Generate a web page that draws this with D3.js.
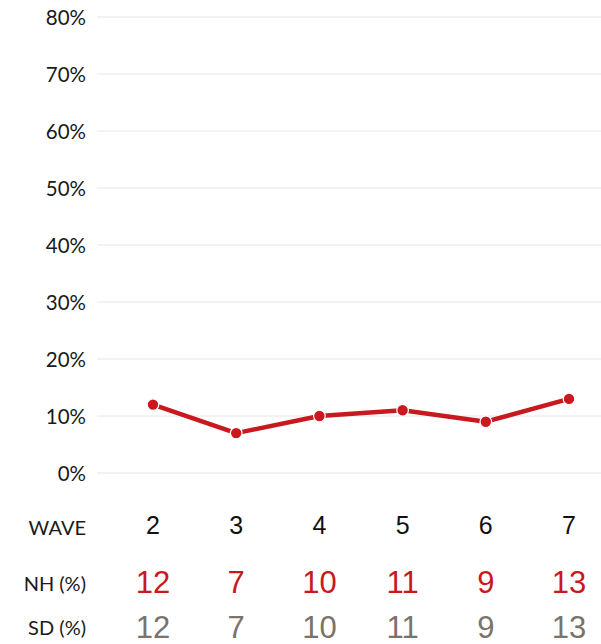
<!DOCTYPE html>
<html>
<head>
<meta charset="utf-8">
<script src="https://cdn.jsdelivr.net/npm/d3@7"></script>
<style>
  html, body { margin: 0; padding: 0; background: #fff; }
  svg { display: block; }
</style>
</head>
<body>
<svg id="chart" width="601" height="644"></svg>
<script>
// Survey waves and share of respondents per wave
const waves = ["2", "3", "4", "5", "6", "7"];
const nhValues = [12, 7, 10, 11, 9, 13];
const sdValues = [12, 7, 10, 11, 9, 13];
const yTicks = [0, 10, 20, 30, 40, 50, 60, 70, 80];
const rowLabels = ["WAVE", "NH (%)", "SD (%)"];

const red = "#c8191f";
const grey = "#7b726b";
const labelFont = "Lato, 'Open Sans', sans-serif";
const numberFont = "'Liberation Sans', Arial, sans-serif";

const svg = d3.select("#chart");

const x = d3.scalePoint().domain(waves).range([153, 569]);
const y = d3.scaleLinear().domain([0, 80]).range([473, 17]);

// Horizontal gridlines
svg.append("g")
  .selectAll("line")
  .data(yTicks)
  .join("line")
  .attr("x1", 97).attr("x2", 601)
  .attr("y1", d => y(d)).attr("y2", d => y(d))
  .attr("stroke", "#e6e6e6")
  .attr("stroke-width", 1);

// Y axis labels
const yAxis = d3.axisLeft(y).tickValues(yTicks).tickFormat(d => d + "%").tickSize(0).tickPadding(0);
const yg = svg.append("g").attr("transform", "translate(86,0)").call(yAxis);
yg.select(".domain").remove();
yg.selectAll("text")
  .attr("font-family", labelFont)
  .attr("font-size", 20.5)
  .attr("fill", "#1a1a1a")
  .attr("dy", "0.35em");

// Line
const line = d3.line()
  .x((d, i) => x(waves[i]))
  .y(d => y(d));

svg.append("path")
  .datum(nhValues)
  .attr("d", line)
  .attr("fill", "none")
  .attr("stroke", red)
  .attr("stroke-width", 4.5)
  .attr("stroke-linejoin", "round");

svg.append("g")
  .selectAll("circle")
  .data(nhValues)
  .join("circle")
  .attr("cx", (d, i) => x(waves[i]))
  .attr("cy", d => y(d))
  .attr("r", 5.8)
  .attr("fill", red)
  .attr("stroke", "#fff")
  .attr("stroke-width", 1.2);

// Table rows below the chart
const labelY = [535, 591, 635];
svg.append("g")
  .selectAll("text")
  .data(rowLabels)
  .join("text")
  .attr("x", 86)
  .attr("y", (d, i) => labelY[i])
  .attr("text-anchor", "end")
  .attr("font-family", labelFont)
  .attr("font-size", 20)
  .attr("fill", "#1a1a1a")
  .text(d => d);

svg.append("g")
  .selectAll("text")
  .data(waves)
  .join("text")
  .attr("x", d => x(d))
  .attr("y", 534)
  .attr("text-anchor", "middle")
  .attr("font-family", numberFont)
  .attr("font-size", 25)
  .attr("fill", "#111")
  .text(d => d);

svg.append("g")
  .selectAll("text")
  .data(nhValues)
  .join("text")
  .attr("x", (d, i) => x(waves[i]))
  .attr("y", 593)
  .attr("text-anchor", "middle")
  .attr("font-family", numberFont)
  .attr("font-size", 31)
  .attr("fill", red)
  .text(d => d);

svg.append("g")
  .selectAll("text")
  .data(sdValues)
  .join("text")
  .attr("x", (d, i) => x(waves[i]))
  .attr("y", 638)
  .attr("text-anchor", "middle")
  .attr("font-family", numberFont)
  .attr("font-size", 31)
  .attr("fill", grey)
  .text(d => d);
</script>
</body>
</html>
